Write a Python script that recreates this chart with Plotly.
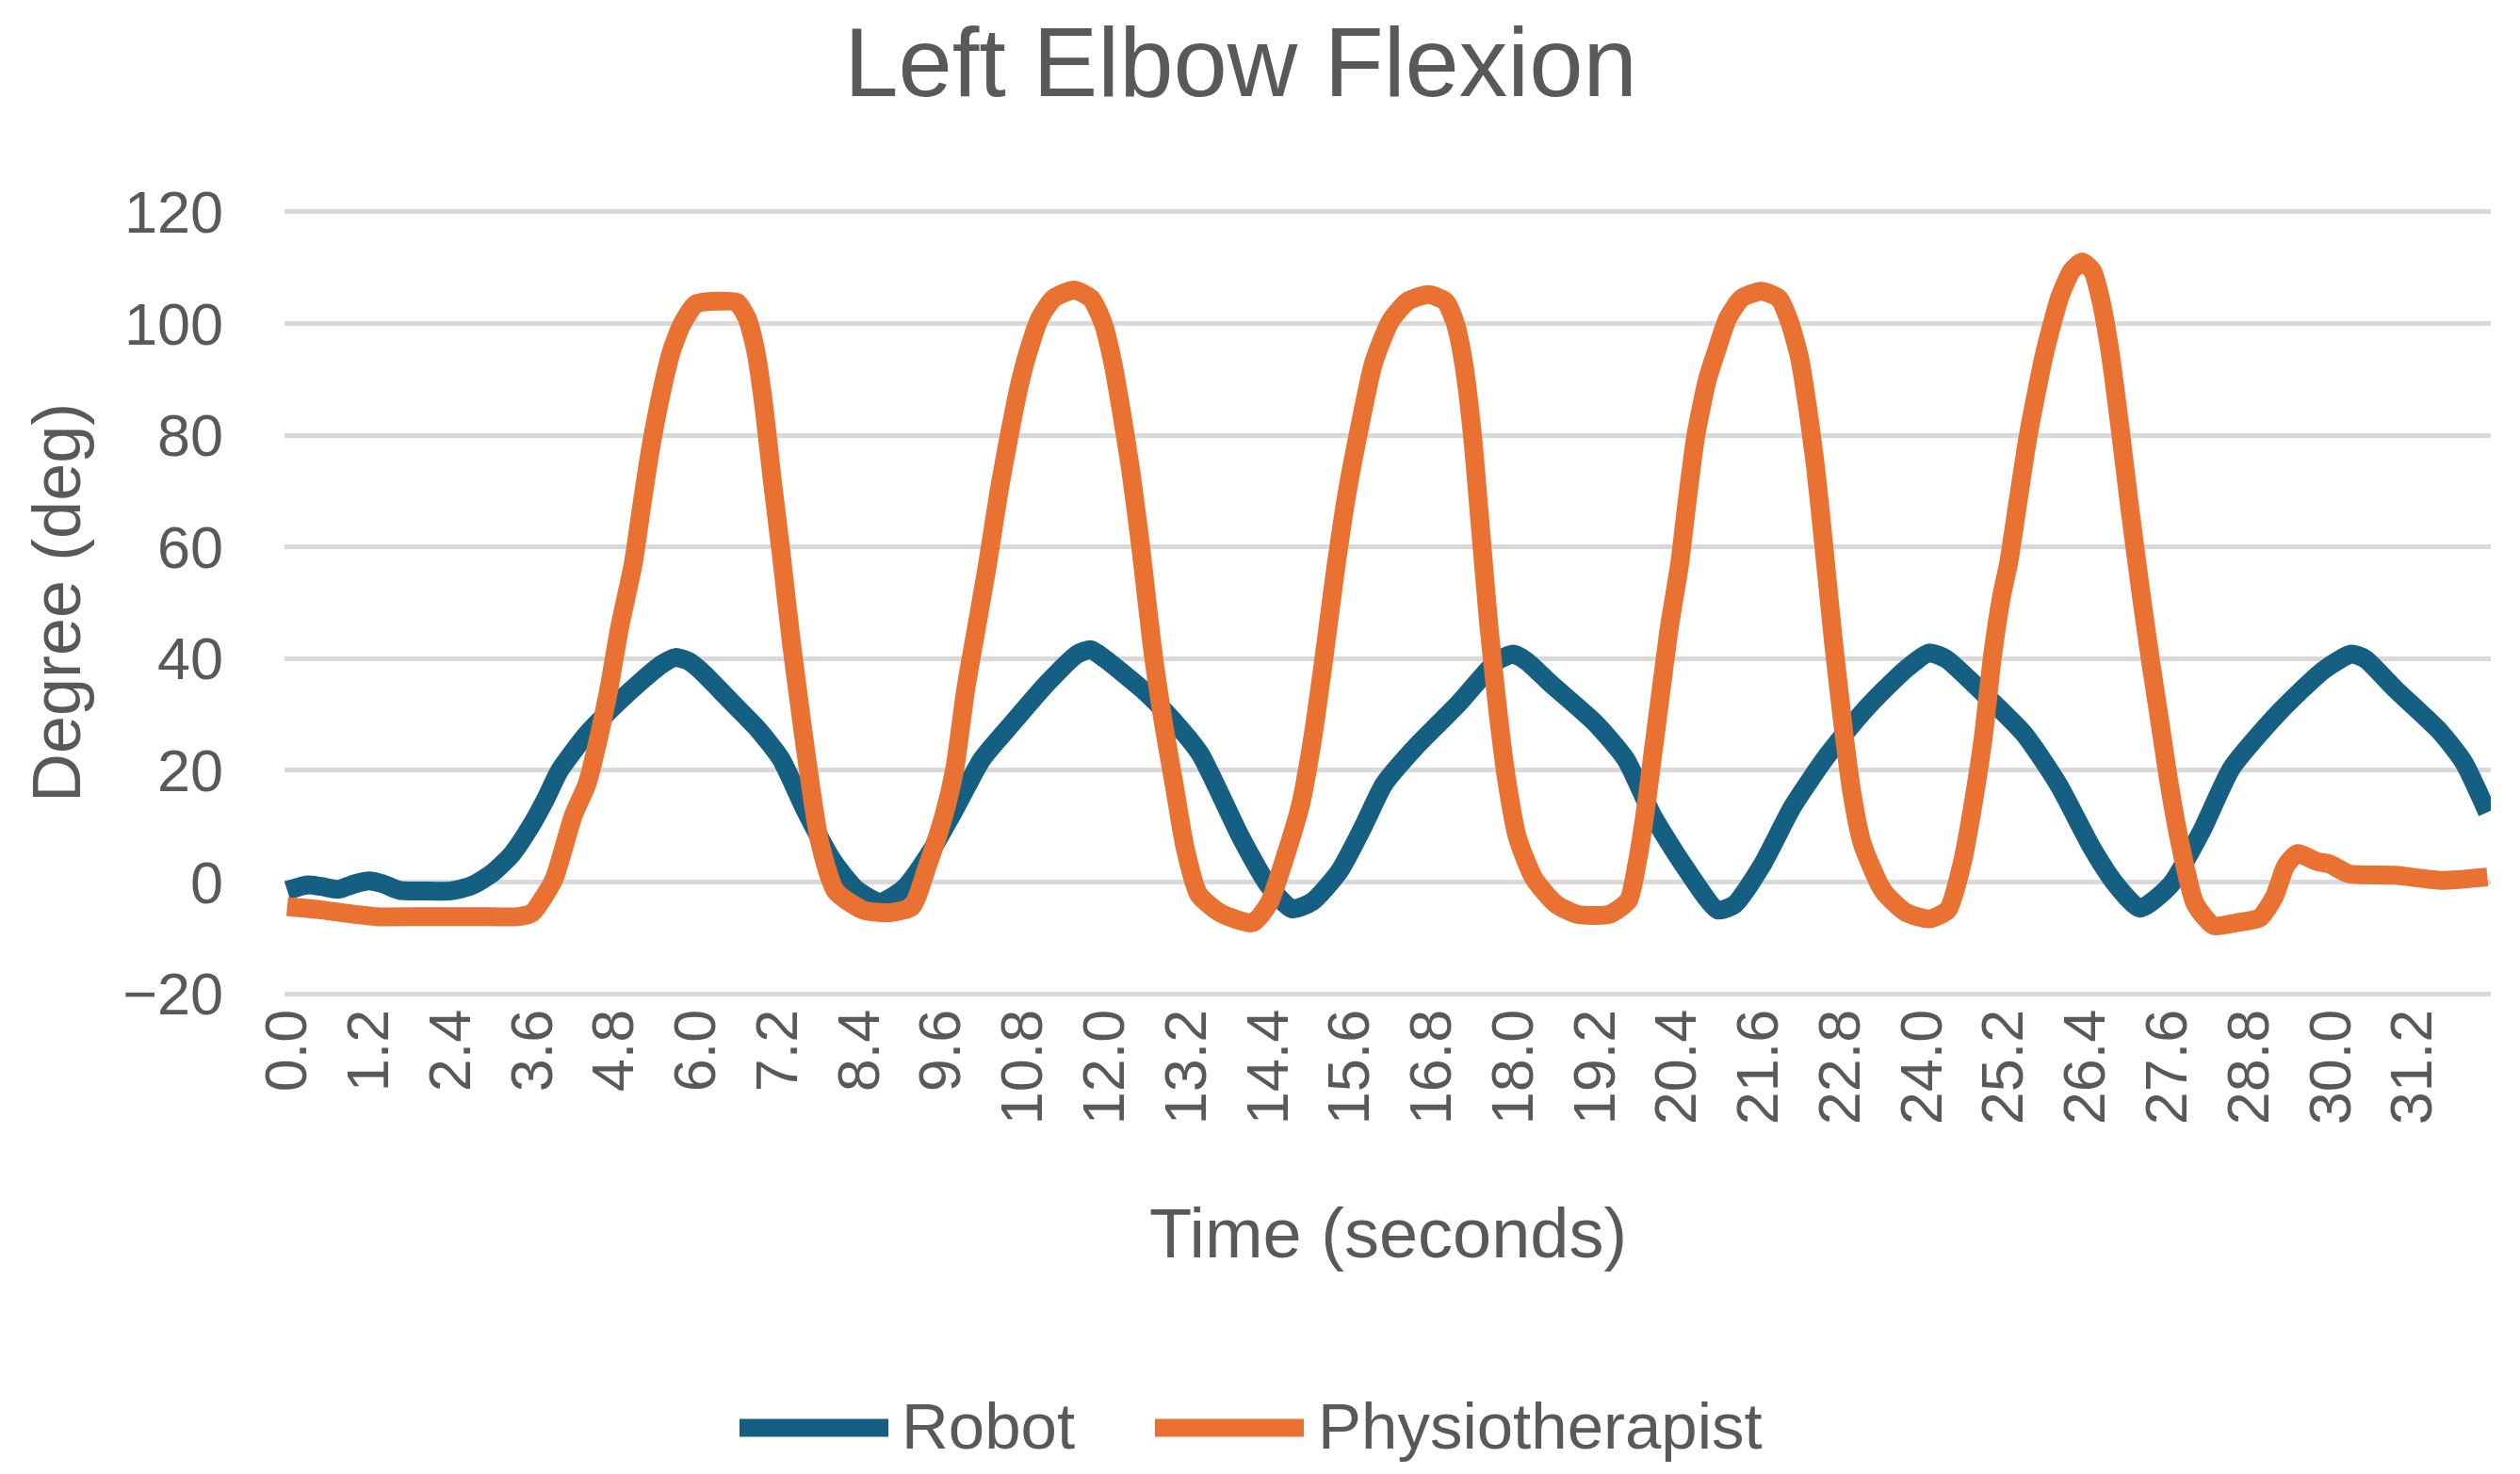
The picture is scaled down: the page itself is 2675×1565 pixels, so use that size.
import plotly.graph_objects as go

# Robot elbow angle (deg) against time (s)
robot_t = [0.0, 0.3, 0.5, 0.75, 1.0, 1.2, 1.4, 1.65, 2.0, 2.4, 2.7, 3.0, 3.3, 3.6, 3.8, 4.0,
           4.4, 4.8, 5.2, 5.5, 5.7, 5.9, 6.1, 6.5, 6.9, 7.25, 7.6, 8.0, 8.35, 8.7, 9.05,
           9.45, 9.8, 10.2, 10.65, 11.15, 11.6, 11.8, 12.0, 12.6, 13.0, 13.4, 14.0, 14.4,
           14.75, 15.05, 15.45, 15.8, 16.1, 16.55, 17.2, 17.75, 18.0, 18.2, 18.55, 19.2,
           19.65, 20.05, 20.5, 21.0, 21.25, 21.65, 22.1, 22.6, 23.1, 23.45, 23.8, 24.1,
           24.35, 24.8, 25.5, 26.0, 26.5, 26.85, 27.2, 27.65, 28.1, 28.55, 29.25, 29.9,
           30.3, 30.5, 30.95, 31.6, 31.95, 32.3]
robot_deg = [-1.5, -0.5, -0.8, -1.3, -0.3, 0.2, -0.3, -1.5, -1.6, -1.6, -0.7, 1.5, 5, 10.5, 15, 20,
             26.5, 31.5, 36, 39, 40.2, 39.5, 37.5, 32.5, 27.5, 22, 13, 4, -1.3, -3.6, -1.2,
             5.5, 13, 22, 28.5, 35.5, 40.8, 41.6, 40, 34, 29, 23, 8, -0.5,
             -4.8, -3.5, 2, 10, 17.5, 24, 32, 39.5, 40.8, 39.5, 35.5, 28.5,
             22, 11.8, 3, -5, -4, 3, 13.5, 22.5, 30, 34.5, 38.5, 41,
             40, 35, 26.5, 17.5, 6, -0.5, -4.7, -0.5, 9, 20.5, 30.5, 38,
             40.8, 40, 34.5, 27, 21.5, 12.5]

# Physiotherapist elbow angle (deg) against time (s)
physio_t = [0.0, 0.5, 1.0, 1.3, 2.0, 2.8, 3.4, 3.6, 3.75, 3.92, 4.2, 4.4, 4.52, 4.72, 4.88,
            5.08, 5.2, 5.34, 5.5, 5.64, 5.8, 6.0, 6.3, 6.6, 6.75, 6.88, 7.0, 7.12, 7.25, 7.4,
            7.55, 7.68, 7.82, 8.05, 8.45, 8.85, 9.17, 9.4, 9.64, 9.8, 9.96, 10.12, 10.28,
            10.45, 10.6, 10.75, 10.88, 11.05, 11.25, 11.55, 11.8, 11.98, 12.12, 12.25, 12.38,
            12.53, 12.7, 12.86, 13.02, 13.18, 13.38, 13.69, 14.17, 14.41, 14.65, 14.88, 15.05,
            15.2, 15.32, 15.4, 15.55, 15.72, 15.95, 16.2, 16.45, 16.75, 17.0, 17.15, 17.27,
            17.4, 17.52, 17.64, 17.77, 17.9, 18.06, 18.3, 18.62, 18.94, 19.41, 19.69, 19.81,
            19.93, 20.05, 20.17, 20.29, 20.44, 20.55, 20.68, 20.85, 20.98, 21.15, 21.35,
            21.64, 21.9, 22.05, 22.2, 22.32, 22.44, 22.56, 22.7, 22.84, 22.97, 23.12, 23.43,
            23.77, 24.11, 24.38, 24.59, 24.76, 24.9, 25.03, 25.17, 25.27, 25.42, 25.56, 25.8,
            26.03, 26.2, 26.35, 26.5, 26.62, 26.76, 26.9, 27.05, 27.2, 27.35, 27.5, 27.63,
            27.8, 28.01, 28.28, 28.62, 28.96, 29.17, 29.34, 29.51, 29.79, 29.99, 30.26, 30.95,
            31.63, 32.3]
physio_deg = [-4.4, -5, -5.8, -6.2, -6.2, -6.2, -6.2, -5.5, -3, 0.6, 11.9, 17.5, 23.1, 34.4, 45.6,
              57, 67, 78, 88, 95, 100, 103.5, 104, 103.8, 101, 95, 85, 72, 59, 43,
              29, 17.5, 7, -1.6, -5, -5.5, -4.4, 2.9, 11.9, 20.3, 34.4, 45.6, 56.8,
              70, 80, 89, 95, 101, 104.5, 106, 104.5, 100, 93, 84, 74,
              60, 42, 28.7, 17.5, 6.2, -2.2, -5.5, -7.3, -3.9, 4.5, 14, 25.4,
              38.3, 49.5, 56.8, 69, 80, 93, 100.5, 104, 105.2, 104, 100, 93,
              80, 63, 46, 31, 18.5, 8, 0.7, -3.9, -5.8, -5.8, -3.3, 2.9,
              11.9, 23.1, 34.4, 45.6, 56.8, 68, 80, 90, 95, 101, 104.5,
              105.8, 104.5, 100.5, 94, 85, 74, 60, 43, 28, 16, 7, -1.6,
              -5.5, -6.6, -5, 3.4, 14.7, 26, 40, 51.3, 57, 69, 80, 94.7,
              105, 109.5, 111, 109.5, 104.5, 95, 82, 67, 53, 40, 28, 17.5,
              6.2, -3.9, -7.8, -7.3, -6.4, -2.7, 2.9, 5.1, 3.7, 3.2, 1.5, 1.2,
              0.3, 0.9]

BLUE = "#156082"
ORANGE = "#E97132"
GREY = "#595959"
FONT = "Liberation Sans"

W, H = 2675, 1565
L, R = 302, 2644                 # plot area edges in pixels
Y_LO, Y_HI = -20.5, 120.5        # a little wider than the grid so the edge gridlines show
PX_PER_DEG = (1055 - 225) / 140
T = 225 - (Y_HI - 120) * PX_PER_DEG
B = 1055 + (-20 - Y_LO) * PX_PER_DEG


def px(x):
    return (x - L) / (R - L)


def py(y):
    return (B - y) / (B - T)


fig = go.Figure()
fig.add_trace(go.Scatter(x=robot_t, y=robot_deg, mode="lines", name="Robot",
                         line=dict(color=BLUE, width=20, shape="spline", smoothing=0.6)))
fig.add_trace(go.Scatter(x=physio_t, y=physio_deg, mode="lines", name="Physiotherapist",
                         line=dict(color=ORANGE, width=20, shape="spline", smoothing=0.6)))

fig.update_layout(
    width=W, height=H,
    margin=dict(l=L, r=W - R, t=T, b=H - B, autoexpand=False),
    paper_bgcolor="white", plot_bgcolor="white",
    font=dict(family=FONT, color=GREY, size=63),
    showlegend=False,
    title=dict(text="Left Elbow Flexion", font=dict(size=103, color=GREY, family=FONT),
               x=1317 / W, xanchor="center", xref="container",
               y=1 - 66 / H, yanchor="middle", yref="container"),
)
fig.update_xaxes(range=[-0.04, 32.35], tickmode="linear", tick0=0, dtick=1.2,
                 tickformat=".1f", tickangle=-90, showgrid=False, zeroline=False,
                 showline=False, ticks="", ticklabelstandoff=0, automargin=False,
                 tickfont=dict(size=63, color=GREY, family=FONT))
fig.update_yaxes(range=[Y_LO, Y_HI], tickmode="linear", tick0=0, dtick=20,
                 showgrid=True, gridcolor="#D9D9D9", gridwidth=5, zeroline=False,
                 showline=False, ticks="", ticklabelstandoff=64, automargin=False,
                 tickfont=dict(size=63, color=GREY, family=FONT))

# axis titles
fig.add_annotation(text="Degree (deg)", xref="paper", yref="paper", x=px(60), y=py(640),
                   xanchor="center", yanchor="middle", textangle=-90, showarrow=False,
                   font=dict(size=72, color=GREY, family=FONT))
fig.add_annotation(text="Time (seconds)", xref="paper", yref="paper", x=0.5, y=py(1309),
                   xanchor="center", yanchor="middle", showarrow=False,
                   font=dict(size=74, color=GREY, family=FONT))

# legend drawn by hand so the swatches are long like the original
for x0, x1, tx, name, col in [(785, 943, 955, "Robot", BLUE),
                              (1226, 1384, 1397, "Physiotherapist", ORANGE)]:
    fig.add_shape(type="line", xref="paper", yref="paper", x0=px(x0), x1=px(x1),
                  y0=py(1516), y1=py(1516), line=dict(color=col, width=19))
    fig.add_annotation(text=name, xref="paper", yref="paper", x=px(tx), y=py(1514),
                       xanchor="left", yanchor="middle", showarrow=False,
                       font=dict(size=69, color=GREY, family=FONT))

# the page is photographed from its top-left corner, so drop the default body margin
fig.write_html("out.html", config={"displayModeBar": False},
               post_script="document.body.style.margin='0';")
